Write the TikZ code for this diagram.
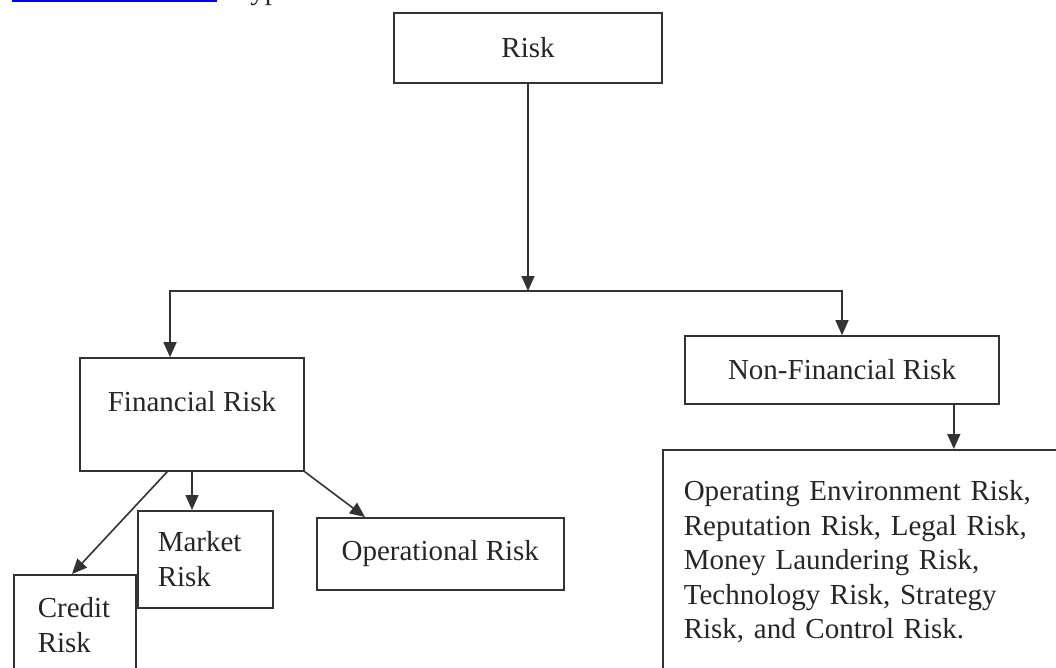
\documentclass[tikz,border=0pt]{standalone}
\usepackage{fontspec}
\setmainfont{Liberation Serif}
\usetikzlibrary{positioning}
\usetikzlibrary{arrows.meta}
\tikzset{x=1pt, y=-1pt, % One unit per pixel of the scan, y grows downwards
riskbox/.style={ % Sets the properties for each framed box
rectangle,
draw=black!80,
line width=1.6pt,
inner sep=0pt,
text=black!85,
font=\fontsize{29}{34.5}\selectfont},
link/.style={ % Sets the properties for each connector
draw=black!80,
line width=1.6pt,
-{Triangle[width=13pt,length=15pt]}}}

\begin{document}
\begin{tikzpicture}
    \useasboundingbox (0,0) rectangle (1056,668);
    % cut-off line of the page above
    \draw[blue, line width=2pt] (12,1) -- (217,1);
    \node[anchor=base west, inner sep=0pt, text=black!85, font=\fontsize{29}{34.5}\selectfont] (cut) at (242,0) {types};
    \node[riskbox, minimum width=268pt, minimum height=70pt] (risk) at (528,48) {Risk};
    \node[riskbox, minimum width=224pt, minimum height=113pt, text height=20pt, text depth=27pt] (fin) at (192,414.5) {Financial Risk};
    \node[riskbox, minimum width=314pt, minimum height=68pt] (nonfin) at (842,370) {Non-Financial Risk};
    \node[riskbox, anchor=north west, minimum height=97pt, text width=95pt, align=left, inner xsep=20pt] (market) at (137,510) {Market\\Risk};
    \node[riskbox, anchor=north west, text width=74pt, align=left, inner xsep=24pt, inner ysep=23pt] (credit) at (13,574) {Credit\\Risk};
    \node[riskbox, anchor=north west, minimum width=247pt, minimum height=72pt] (oper) at (316,517) {Operational Risk};
    \node[riskbox, anchor=north west, text width=380pt, align=left, inner xsep=21pt, inner ysep=31pt] (others) at (662,449) {Operating Environment Risk,\\Reputation Risk, Legal Risk,\\Money Laundering Risk,\\Technology Risk, Strategy\\Risk, and Control Risk.};
    \coordinate (split) at (528,291);
    \coordinate (nfout) at ([xshift=-46pt]nonfin.south east);
    \draw[link] (risk) -- (split);
    \draw[link] (split) -| ([xshift=-22pt]fin.north);
    \draw[link] (split) -| (nonfin.north);
    \draw[link] (nfout) -- (nfout |- others.north);
    \draw[link] ([xshift=88pt]fin.south west) -- ([xshift=59pt]credit.north west);
    \draw[link] (fin.south) -- (fin.south |- market.north);
    \draw[link] (fin.south east) -- ([xshift=49pt]oper.north west);
\end{tikzpicture}
\end{document}
